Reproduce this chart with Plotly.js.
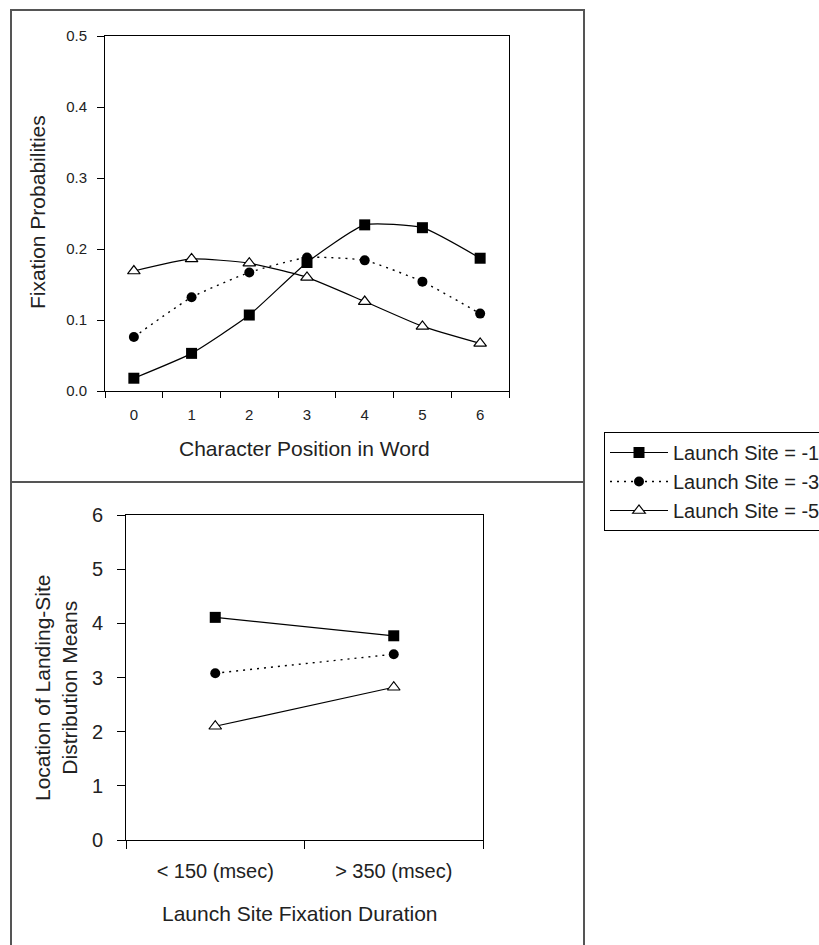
<!DOCTYPE html>
<html>
<head>
<meta charset="utf-8">
<script src="https://cdn.plot.ly/plotly-3.0.1.min.js"></script>
<style>html,body{margin:0;padding:0;background:#fff;overflow:hidden;width:819px;height:945px;}#chart{width:819px;height:945px;overflow:hidden;}</style>
</head>
<body>
<div id="chart"></div>
<script>
// Top panel: fixation probability by character position
var positions = ['0', '1', '2', '3', '4', '5', '6'];
var probLaunch1 = [0.018, 0.053, 0.107, 0.181, 0.234, 0.230, 0.187];
var probLaunch3 = [0.076, 0.132, 0.167, 0.188, 0.184, 0.154, 0.109];
var probLaunch5 = [0.169, 0.186, 0.180, 0.160, 0.126, 0.091, 0.067];

// Bottom panel: landing-site distribution means by launch fixation duration
var durations = ['< 150 (msec)', '> 350 (msec)'];
var meanLaunch1 = [4.11, 3.77];
var meanLaunch3 = [3.08, 3.43];
var meanLaunch5 = [2.10, 2.82];

var seriesNames = ['Launch Site = -1', 'Launch Site = -3', 'Launch Site = -5'];

var W = 819, H = 945;
function px(x) { return x / W; }
function py(y) { return 1 - y / H; }

var FONT = 'Liberation Sans, Arial, sans-serif';
var TXT = '#222';

var markerSquare = {symbol: 'square', size: 11, color: '#000', line: {color: '#000', width: 0}};
var markerCircle = {symbol: 'circle', size: 10, color: '#000', line: {color: '#000', width: 0}};
var markerTri = {symbol: 'triangle-up', size: 11, color: '#fff', line: {color: '#000', width: 1.2}};

var traces = [
  {x: positions, y: probLaunch1, name: seriesNames[0], legendgroup: 'a', mode: 'lines+markers',
   line: {color: '#000', width: 1.2, shape: 'spline', smoothing: 0.5}, marker: markerSquare, xaxis: 'x', yaxis: 'y'},
  {x: positions, y: probLaunch3, name: seriesNames[1], legendgroup: 'b', mode: 'lines+markers',
   line: {color: '#000', width: 1.4, shape: 'spline', smoothing: 0.5, dash: '2px,5px'}, marker: markerCircle, xaxis: 'x', yaxis: 'y'},
  {x: positions, y: probLaunch5, name: seriesNames[2], legendgroup: 'c', mode: 'lines+markers',
   line: {color: '#000', width: 1.2, shape: 'spline', smoothing: 0.5}, marker: markerTri, xaxis: 'x', yaxis: 'y'},
  {x: durations, y: meanLaunch1, name: seriesNames[0], legendgroup: 'a', showlegend: false, mode: 'lines+markers',
   line: {color: '#000', width: 1.2}, marker: markerSquare, xaxis: 'x2', yaxis: 'y2'},
  {x: durations, y: meanLaunch3, name: seriesNames[1], legendgroup: 'b', showlegend: false, mode: 'lines+markers',
   line: {color: '#000', width: 1.4, dash: '2px,5px'}, marker: markerCircle, xaxis: 'x2', yaxis: 'y2'},
  {x: durations, y: meanLaunch5, name: seriesNames[2], legendgroup: 'c', showlegend: false, mode: 'lines+markers',
   line: {color: '#000', width: 1.2}, marker: markerTri, xaxis: 'x2', yaxis: 'y2'}
];

var axisCommon = {
  showgrid: false, zeroline: false, showline: true, linecolor: '#000', linewidth: 1,
  mirror: true, ticks: 'outside', tickcolor: '#000', tickwidth: 1, fixedrange: true
};

var layout = {
  width: W, height: H,
  margin: {l: 0, r: 0, t: 0, b: 0, autoexpand: false},
  paper_bgcolor: '#fff', plot_bgcolor: '#fff',
  font: {family: FONT, color: TXT},
  showlegend: true,
  legend: {
    x: px(604), y: py(432), xanchor: 'left', yanchor: 'top',
    bordercolor: '#000', borderwidth: 1, bgcolor: '#fff',
    font: {family: FONT, size: 20, color: TXT},
    itemwidth: 58, tracegroupgap: 0, traceorder: 'normal'
  },
  xaxis: Object.assign({}, axisCommon, {
    domain: [px(105), px(509)], anchor: 'y', type: 'category', range: [-0.5, 6.5],
    tickson: 'boundaries', ticklen: 6,
    tickfont: {size: 15, color: TXT}, ticklabelstandoff: 10
  }),
  yaxis: Object.assign({}, axisCommon, {
    domain: [py(391), py(36)], anchor: 'x', range: [0, 0.5],
    tickvals: [0, 0.1, 0.2, 0.3, 0.4, 0.5], tickformat: '.1f', ticklen: 7,
    tickfont: {size: 15, color: TXT}, ticklabelstandoff: 7
  }),
  xaxis2: Object.assign({}, axisCommon, {
    domain: [px(126), px(483)], anchor: 'y2', type: 'category', range: [-0.5, 1.5],
    tickson: 'boundaries', ticklen: 8,
    tickfont: {size: 20, color: TXT}, ticklabelstandoff: 13
  }),
  yaxis2: Object.assign({}, axisCommon, {
    domain: [py(840), py(515)], anchor: 'x2', range: [0, 6],
    tickvals: [0, 1, 2, 3, 4, 5, 6], ticklen: 8,
    tickfont: {size: 20, color: TXT}, ticklabelstandoff: 10
  }),
  annotations: [
    {text: 'Character Position in Word', xref: 'paper', yref: 'paper', x: px(304), y: py(449),
     xanchor: 'center', yanchor: 'middle', showarrow: false, font: {size: 21, color: TXT}},
    {text: 'Fixation Probabilities', xref: 'paper', yref: 'paper', x: px(38), y: py(212),
     xanchor: 'center', yanchor: 'middle', textangle: -90, showarrow: false, font: {size: 21, color: TXT}},
    {text: 'Launch Site Fixation Duration', xref: 'paper', yref: 'paper', x: px(300), y: py(913),
     xanchor: 'center', yanchor: 'middle', showarrow: false, font: {size: 21, color: TXT}},
    {text: 'Location of Landing-Site<br>Distribution Means', xref: 'paper', yref: 'paper', x: px(56), y: py(688),
     xanchor: 'center', yanchor: 'middle', textangle: -90, showarrow: false, font: {size: 21, color: TXT}}
  ],
  shapes: [
    {type: 'rect', xref: 'paper', yref: 'paper', x0: px(11), x1: px(584), y0: py(950), y1: py(10),
     line: {color: '#555', width: 2}, layer: 'below'},
    {type: 'line', xref: 'paper', yref: 'paper', x0: px(11), x1: px(584), y0: py(482), y1: py(482),
     line: {color: '#555', width: 2}, layer: 'below'}
  ]
};

Plotly.newPlot('chart', traces, layout, {displayModeBar: false, staticPlot: true});
</script>
</body>
</html>
